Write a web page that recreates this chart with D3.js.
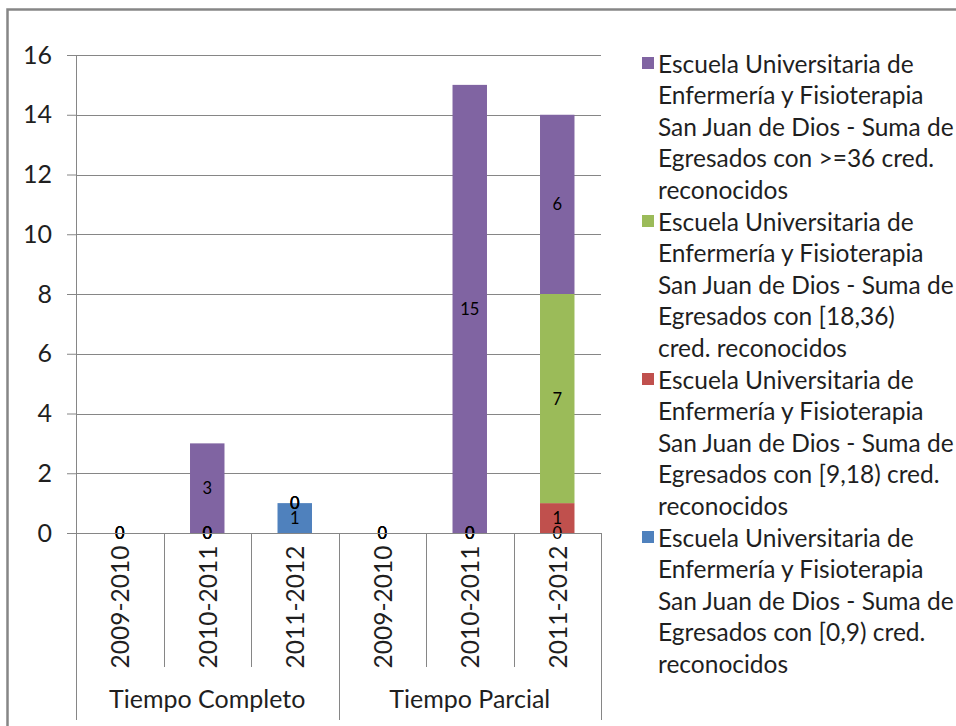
<!DOCTYPE html>
<html>
<head>
<meta charset="utf-8">
<script src="https://cdn.jsdelivr.net/npm/d3@7/dist/d3.min.js"></script>
<style>
  body { margin: 0; background: #fff; }
  text { font-family: Lato, "Open Sans", sans-serif; fill: #1f1f1f; }
</style>
</head>
<body>
<div id="chart"></div>
<script>
const groups = ["Tiempo Completo", "Tiempo Parcial"];
const years = ["2009-2010", "2010-2011", "2011-2012"];
const yTicks = [0, 2, 4, 6, 8, 10, 12, 14, 16];

// series, stacked bottom to top; null = no value (no label)
const seriesKeys = ["c0_9", "c9_18", "c18_36", "c36"];
const c0_9   = [0, 0, 1, 0, 0, 0];
const c9_18  = [0, 0, 0, 0, 0, 1];
const c18_36 = [0, 0, 0, 0, 0, 7];
const c36    = [null, 3, 0, null, 15, 6];
const seriesColors = ["#4f81bd", "#c0504d", "#9bbb59", "#8064a2"];

// legend (top to bottom), wrapped as in the original
const legendItems = [
  {key: "c36", lines: ["Escuela Universitaria de", "Enfermería y Fisioterapia", "San Juan de Dios - Suma de", "Egresados con >=36 cred.", "reconocidos"]},
  {key: "c18_36", lines: ["Escuela Universitaria de", "Enfermería y Fisioterapia", "San Juan de Dios - Suma de", "Egresados con [18,36)", "cred. reconocidos"]},
  {key: "c9_18", lines: ["Escuela Universitaria de", "Enfermería y Fisioterapia", "San Juan de Dios - Suma de", "Egresados con [9,18) cred.", "reconocidos"]},
  {key: "c0_9", lines: ["Escuela Universitaria de", "Enfermería y Fisioterapia", "San Juan de Dios - Suma de", "Egresados con [0,9) cred.", "reconocidos"]}
];

const W = 956, H = 726;
const plot = {left: 76, right: 601, top: 55, bottom: 533};
const seriesValues = {c0_9, c9_18, c18_36, c36};
const color = d3.scaleOrdinal().domain(seriesKeys).range(seriesColors);

const cats = [];
groups.forEach(g => years.forEach(y => cats.push(g + "|" + y)));

const svg = d3.select("#chart").append("svg")
  .attr("width", W).attr("height", H);

// outer chart border
svg.append("rect")
  .attr("x", 7.5).attr("y", 9.5)
  .attr("width", W + 10).attr("height", H + 10)
  .attr("fill", "none").attr("stroke", "#868686").attr("stroke-width", 2.5);

const x = d3.scaleBand().domain(cats).range([plot.left, plot.right]).paddingInner(0).paddingOuter(0);
const y = d3.scaleLinear().domain([0, 16]).range([plot.bottom, plot.top]);

// gridlines + y labels
const yAxis = svg.append("g")
  .attr("transform", "translate(" + plot.left + ",0)")
  .call(d3.axisLeft(y).tickValues(yTicks).tickSize(9).tickPadding(15)
    .tickFormat(d3.format("d")));
yAxis.select(".domain").remove();
yAxis.selectAll(".tick line").attr("stroke", "#868686");
yAxis.selectAll(".tick text").style("font-size", "25px").attr("fill", "#1f1f1f");

svg.append("g").selectAll("line")
  .data(yTicks)
  .join("line")
  .attr("x1", plot.left).attr("x2", plot.right)
  .attr("y1", d => Math.round(y(d)) + 0.5).attr("y2", d => Math.round(y(d)) + 0.5)
  .attr("stroke", "#868686");

// stacked data
const table = cats.map((c, i) => {
  const row = {cat: c};
  seriesKeys.forEach(k => row[k] = seriesValues[k][i] || 0);
  return row;
});
const stacked = d3.stack().keys(seriesKeys)(table);

const barW = x.bandwidth() * 0.394;
const bars = svg.append("g");
stacked.forEach(layer => {
  bars.selectAll(null)
    .data(layer.filter(d => d[1] > d[0]))
    .join("rect")
    .attr("x", d => x(d.data.cat) + (x.bandwidth() - barW) / 2)
    .attr("width", barW)
    .attr("y", d => y(d[1]))
    .attr("height", d => y(d[0]) - y(d[1]))
    .attr("fill", color(layer.key));
});

// data labels (only where a value exists)
const labels = svg.append("g");
stacked.forEach(layer => {
  const vals = seriesValues[layer.key];
  labels.selectAll(null)
    .data(layer.filter((d, i) => vals[i] !== null))
    .join("text")
    .attr("x", d => x(d.data.cat) + x.bandwidth() / 2)
    .attr("y", d => y((d[0] + d[1]) / 2))
    .attr("text-anchor", "middle")
    .attr("dominant-baseline", "central")
    .style("font-size", "16.5px")
    .style("fill", "#000")
    .text(d => d[1] - d[0]);
});

// axis lines
svg.append("line")
  .attr("x1", plot.left + 0.5).attr("x2", plot.left + 0.5)
  .attr("y1", plot.top).attr("y2", plot.bottom)
  .attr("stroke", "#868686");
svg.append("line")
  .attr("x1", plot.left).attr("x2", plot.right)
  .attr("y1", plot.bottom + 0.5).attr("y2", plot.bottom + 0.5)
  .attr("stroke", "#868686");

// category separators
const sep = svg.append("g");
cats.forEach((c, i) => {
  if (i % years.length === 0) return;
  const xx = Math.round(x(c)) + 0.5;
  sep.append("line").attr("x1", xx).attr("x2", xx)
    .attr("y1", plot.bottom).attr("y2", 667).attr("stroke", "#868686");
});
[0, 1, 2].forEach(gi => {
  const xx = Math.round(plot.left + gi * years.length * x.step()) + 0.5;
  sep.append("line").attr("x1", xx).attr("x2", xx)
    .attr("y1", plot.bottom).attr("y2", 720).attr("stroke", "#868686");
});

// year labels, rotated
svg.append("g").selectAll("text")
  .data(cats)
  .join("text")
  .attr("transform", d => "translate(" + (x(d) + x.bandwidth() / 2) + ",607) rotate(-90)")
  .attr("text-anchor", "middle")
  .attr("dominant-baseline", "central")
  .style("font-size", "24.5px")
  .text(d => d.split("|")[1]);

// group labels
svg.append("g").selectAll("text")
  .data(groups)
  .join("text")
  .attr("x", (d, i) => plot.left + (i + 0.5) * years.length * x.step())
  .attr("y", 708)
  .attr("text-anchor", "middle")
  .style("font-size", "25px")
  .text(d => d);

// legend
const lineH = 31.6, legTop = 63;
const legend = svg.append("g");
legendItems.forEach((item, i) => {
  const y0 = legTop + i * item.lines.length * lineH;
  legend.append("rect")
    .attr("x", 642).attr("y", y0 - 6)
    .attr("width", 12).attr("height", 12)
    .attr("fill", color(item.key));
  item.lines.forEach((ln, j) => {
    legend.append("text")
      .attr("x", 658).attr("y", y0 + j * lineH)
      .attr("dominant-baseline", "central")
      .style("font-size", "24.5px")
      .text(ln);
  });
});
</script>
</body>
</html>
